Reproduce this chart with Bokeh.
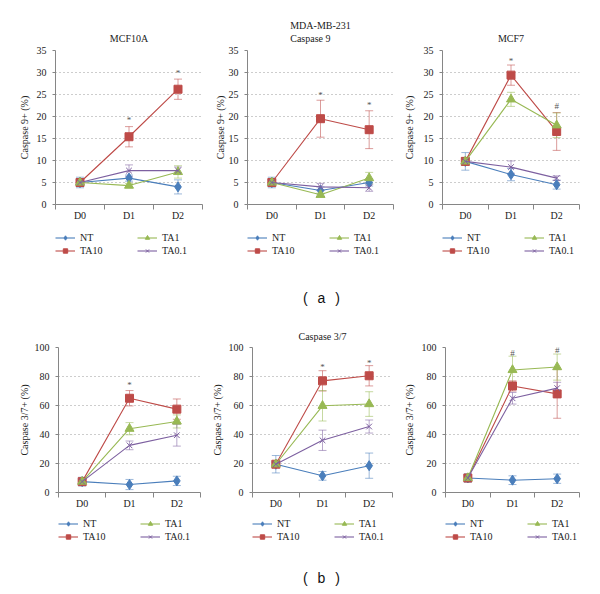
from bokeh.plotting import figure
from bokeh.models import (ColumnDataSource, Whisker, TeeHead, FixedTicker, Legend,
                          LegendItem, Div, Range1d)
from bokeh.layouts import column, row
from bokeh.embed import file_html
from bokeh.resources import INLINE
from bokeh.core.properties import value

# ---------------- data ----------------
days = ["D0", "D1", "D2"]
series = ["NT", "TA10", "TA1", "TA0.1"]
c9_yticks = [0, 5, 10, 15, 20, 25, 30, 35]
c37_yticks = [0, 20, 40, 60, 80, 100]

# Caspase 9 - MCF10A
mcf10a_c9_mean = {"NT": [5.0, 6.0, 4.0], "TA10": [5.0, 15.4, 26.2],
                  "TA1": [5.0, 4.3, 7.4], "TA0.1": [5.0, 7.7, 7.7]}
mcf10a_c9_err = {"NT": [1.2, 0.7, 1.6], "TA10": [0.5, 2.3, 2.3],
                 "TA1": [0.6, 0.5, 1.4], "TA0.1": [0.8, 1.3, 0.8]}
mcf10a_c9_sig = [("D1", "*", 19.3), ("D2", "*", 29.8)]

# Caspase 9 - MDA-MB-231
mda_c9_mean = {"NT": [5.0, 3.2, 5.0], "TA10": [5.0, 19.5, 17.0],
               "TA1": [5.0, 2.2, 6.0], "TA0.1": [5.0, 4.0, 3.8]}
mda_c9_err = {"NT": [1.2, 0.8, 0.8], "TA10": [0.6, 4.2, 4.3],
              "TA1": [0.6, 0.4, 1.3], "TA0.1": [0.7, 0.8, 0.8]}
mda_c9_sig = [("D1", "*", 25.0), ("D2", "*", 22.7)]

# Caspase 9 - MCF7
mcf7_c9_mean = {"NT": [9.8, 6.8, 4.5], "TA10": [9.8, 29.4, 16.6],
                "TA1": [9.8, 23.9, 18.0], "TA0.1": [9.8, 8.5, 6.0]}
mcf7_c9_err = {"NT": [2.0, 1.4, 1.0], "TA10": [0.8, 2.3, 4.3],
               "TA1": [0.8, 1.6, 2.8], "TA0.1": [0.8, 1.4, 0.5]}
mcf7_c9_sig = [("D1", "*", 32.6), ("D2", "#", 22.3)]

# Caspase 3/7 - MCF10A
mcf10a_c37_mean = {"NT": [7.5, 5.5, 8.0], "TA10": [7.5, 65.0, 57.5],
                   "TA1": [7.5, 44.0, 49.0], "TA0.1": [7.5, 32.5, 39.5]}
mcf10a_c37_err = {"NT": [3.0, 3.5, 3.2], "TA10": [1.5, 5.3, 7.0],
                  "TA1": [1.5, 4.2, 4.5], "TA0.1": [1.5, 3.0, 7.5]}
mcf10a_c37_sig = [("D1", "*", 74.0)]

# Caspase 3/7 - MDA-MB-231
mda_c37_mean = {"NT": [19.5, 11.5, 18.5], "TA10": [19.5, 77.0, 80.5],
                "TA1": [19.5, 59.8, 61.0], "TA0.1": [19.5, 36.0, 45.5]}
mda_c37_err = {"NT": [6.0, 3.0, 8.7], "TA10": [1.5, 7.0, 7.0],
               "TA1": [1.5, 10.5, 8.5], "TA0.1": [1.5, 7.0, 4.5]}
mda_c37_sig = [("D1", "*", 86.5), ("D2", "*", 89.5)]

# Caspase 3/7 - MCF7
mcf7_c37_mean = {"NT": [10.0, 8.5, 9.5], "TA10": [10.0, 73.5, 68.0],
                 "TA1": [10.0, 84.5, 86.5], "TA0.1": [10.0, 65.0, 72.0]}
mcf7_c37_err = {"NT": [3.0, 3.0, 3.2], "TA10": [1.5, 3.5, 16.8],
                "TA1": [1.5, 9.5, 9.0], "TA0.1": [1.5, 4.0, 4.0]}
mcf7_c37_sig = [("D1", "#", 96.5), ("D2", "#", 98.5)]

# ---------------- style ----------------
colors = {"NT": "#4A7EBB", "TA10": "#BE4B48", "TA1": "#98B954", "TA0.1": "#7D60A0"}
markers = {"NT": "diamond", "TA10": "square", "TA1": "triangle", "TA0.1": "x"}
msizes = {"NT": 10, "TA10": 8, "TA1": 9, "TA0.1": 8}
FONT = "Liberation Serif"
AXC = "#868686"
TXT = "#222222"
XS = [i + 0.5 for i in range(len(days))]


def panel(mean, err, sig, yticks, ylabel, title, width, height, bl, br, bt, bb,
          lab_standoff, title_offset=0, title_standoff=12):
    p = figure(width=width, height=height,
               x_range=Range1d(0, len(days)), y_range=Range1d(yticks[0], yticks[-1]),
               output_backend="svg", toolbar_location=None,
               min_border_left=bl, min_border_right=br,
               min_border_top=bt, min_border_bottom=bb,
               title=title)
    p.outline_line_color = None
    if title:
        p.title.text_font = FONT
        p.title.text_font_size = "10px"
        p.title.text_font_style = "normal"
        p.title.text_color = TXT
        p.title.align = "center"
        p.title.text_line_height = 1.2
        p.title.standoff = title_standoff
        p.title.offset = title_offset

    for s in series:
        up = [m + e for m, e in zip(mean[s], err[s])]
        lo = [m - e for m, e in zip(mean[s], err[s])]
        src = ColumnDataSource(dict(x=XS, y=mean[s], upper=up, lower=lo))
        p.line("x", "y", source=src, line_color=colors[s], line_width=1.1)
        wk = Whisker(source=src, base="x", upper="upper", lower="lower",
                     line_color=colors[s], line_alpha=0.55, line_width=1,
                     upper_head=TeeHead(size=8, line_color=colors[s], line_alpha=0.55, line_width=1),
                     lower_head=TeeHead(size=8, line_color=colors[s], line_alpha=0.55, line_width=1))
        p.add_layout(wk)
        p.scatter("x", "y", source=src, marker=markers[s], size=msizes[s],
                  fill_color=colors[s], line_color=colors[s], line_width=1)

    ssrc = ColumnDataSource(dict(x=[XS[days.index(d)] for d, _, _ in sig],
                                 y=[v for _, _, v in sig],
                                 t=[m for _, m, _ in sig]))
    p.text("x", "y", text="t", source=ssrc, text_align="center", text_baseline="middle",
           text_font=value(FONT), text_font_size="9px", text_color="#555555")

    xa = p.xaxis[0]
    xa.ticker = FixedTicker(ticks=XS, minor_ticks=list(range(len(days) + 1)))
    xa.major_label_overrides = {x: d for x, d in zip(XS, days)}
    xa.major_tick_out = 0
    xa.major_tick_in = 0
    xa.minor_tick_out = 5
    xa.minor_tick_in = 0
    xa.minor_tick_line_color = AXC
    xa.major_label_standoff = 0

    ya = p.yaxis[0]
    ya.ticker = FixedTicker(ticks=yticks)
    ya.major_tick_out = 3
    ya.major_tick_in = 0
    ya.minor_tick_line_color = None
    ya.major_label_standoff = 6
    ya.axis_label = ylabel
    ya.axis_label_standoff = lab_standoff
    ya.axis_label_text_font = FONT
    ya.axis_label_text_font_size = "10px"
    ya.axis_label_text_font_style = "normal"
    ya.axis_label_text_color = TXT

    for ax in (xa, ya):
        ax.axis_line_color = AXC
        ax.major_tick_line_color = AXC
        ax.major_label_text_font = FONT
        ax.major_label_text_font_size = "10px"
        ax.major_label_text_color = TXT

    p.xgrid.grid_line_color = None
    p.ygrid.grid_line_color = "#9a9a9a"
    p.ygrid.grid_line_dash = "1 3"
    return p


def legend_fig(mean, width, height, bl, bt):
    """Key of the four series, in its own strip below a panel (the series
    glyphs here sit outside this strip's visible range; only the key shows)."""
    q = figure(width=width, height=height, x_range=Range1d(0, len(days)),
               y_range=Range1d(-1000, -999),
               output_backend="svg", toolbar_location=None,
               min_border_left=bl, min_border_right=0, min_border_top=bt, min_border_bottom=0,
               x_axis_type=None, y_axis_type=None)
    q.outline_line_color = None
    q.xgrid.visible = False
    q.ygrid.visible = False
    items = []
    for s in series:
        src = ColumnDataSource(dict(x=XS, y=mean[s]))
        ln = q.line("x", "y", source=src, line_color=colors[s], line_width=1.1)
        sc = q.scatter("x", "y", source=src, marker=markers[s], size=msizes[s],
                       fill_color=colors[s], line_color=colors[s], line_width=1)
        items.append(LegendItem(label=s, renderers=[ln, sc]))
    leg = Legend(items=items, location="top_left", orientation="vertical", nrows=2,
                 glyph_width=20, glyph_height=11, label_height=11, label_width=55,
                 label_standoff=5, spacing=2, padding=0, margin=0,
                 border_line_color=None, background_fill_alpha=0,
                 label_text_font=FONT, label_text_font_size="10px", label_text_color=TXT)
    q.add_layout(leg)
    return q


c9_label = "Caspase 9+ (%)"
c37_label = "Caspase 3/7+ (%)"

p1 = panel(mcf10a_c9_mean, mcf10a_c9_err, mcf10a_c9_sig, c9_yticks, c9_label, "MCF10A",
           208, 226, 54, 6, 50, 22, 4, 0, 13)
p2 = panel(mda_c9_mean, mda_c9_err, mda_c9_sig, c9_yticks, c9_label, "MDA-MB-231\nCaspase 9",
           192, 226, 38, 7, 50, 22, 0)
p3 = panel(mcf7_c9_mean, mcf7_c9_err, mcf7_c9_sig, c9_yticks, c9_label, "MCF7",
           196, 226, 41, 17, 50, 22, 6, -5, 13)
p4 = panel(mcf10a_c37_mean, mcf10a_c37_err, mcf10a_c37_sig, c37_yticks, c37_label, None,
           208, 190, 57, 8, 25, 20, 2)
p5 = panel(mda_c37_mean, mda_c37_err, mda_c37_sig, c37_yticks, c37_label, "Caspase 3/7",
           192, 190, 40, 8, 25, 20, 3)
p6 = panel(mcf7_c37_mean, mcf7_c37_err, mcf7_c37_sig, c37_yticks, c37_label, None,
           196, 190, 40, 17, 25, 20, 4)

l1 = legend_fig(mcf10a_c9_mean, 208, 38, 55, 6)
l2 = legend_fig(mda_c9_mean, 192, 38, 39, 6)
l3 = legend_fig(mcf7_c9_mean, 196, 38, 42, 6)
l4 = legend_fig(mcf10a_c37_mean, 208, 52, 58, 6)
l5 = legend_fig(mda_c37_mean, 192, 52, 41, 6)
l6 = legend_fig(mcf7_c37_mean, 196, 52, 41, 6)


def caption(txt, h, pt):
    return Div(text=('<div style="box-sizing:border-box;width:596px;height:%dpx;padding-top:%dpx;'
                     'line-height:20px;overflow:hidden;padding-left:303px;'
                     'font-family:\'Liberation Sans\';font-size:14px;'
                     'word-spacing:6px;color:#111;white-space:nowrap;">%s</div>') % (h, pt, txt),
               width=596, height=h, margin=0)


layout = column(row(column(p1, l1), column(p2, l2), column(p3, l3)),
                caption("( a )", 58, 24),
                row(column(p4, l4), column(p5, l5), column(p6, l6)),
                caption("( b )", 26, 4))

open("out.html", "w").write(file_html(layout, INLINE))
